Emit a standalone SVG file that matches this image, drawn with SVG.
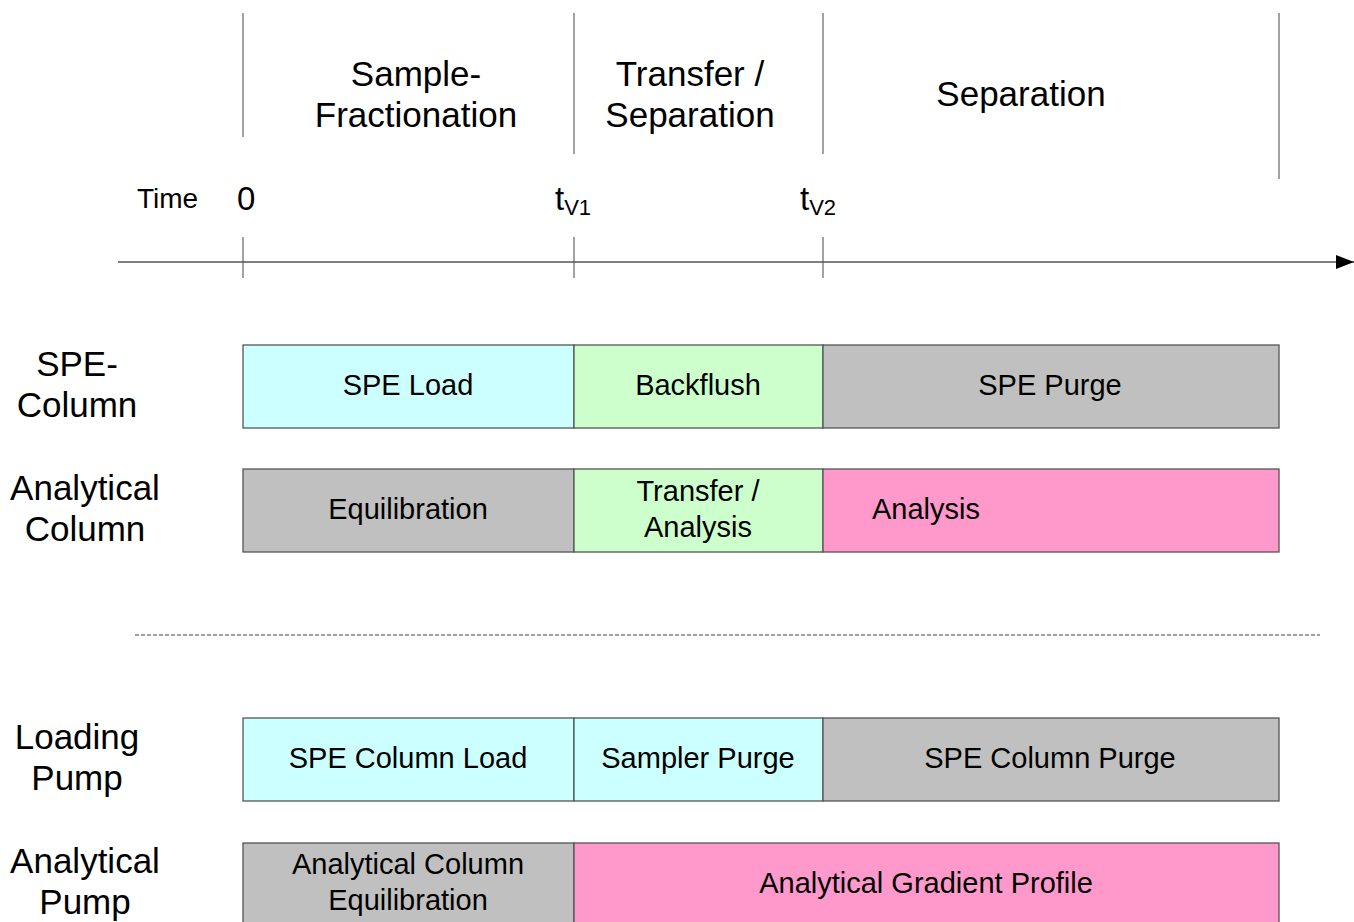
<svg xmlns="http://www.w3.org/2000/svg" width="1354" height="922" viewBox="0 0 1354 922">
  <style>
    text { font-family: "Liberation Sans", Arial, sans-serif; fill: #000; }
    .head { font-size: 35px; text-anchor: middle; }
    .row { font-size: 35px; text-anchor: middle; }
    .lbl { font-size: 29px; text-anchor: middle; }
    .guide { stroke: #666; stroke-width: 1.2; fill: none; }
    .box { stroke: #555; stroke-width: 1.3; }
    .cyan { fill: #CCFFFF; }
    .green { fill: #CCFFCC; }
    .grey { fill: #C0C0C0; }
    .pink { fill: #FF99CC; }
  </style>
  <defs>
    <marker id="arrow" markerWidth="18" markerHeight="14" refX="18" refY="7" orient="auto" markerUnits="userSpaceOnUse">
      <path d="M0,0 L18,7 L0,14 Z" fill="#000"/>
    </marker>
  </defs>
  <rect width="1354" height="922" fill="#fff"/>

  <!-- phase boundaries and time axis -->
  <g id="connectors">
    <line class="guide" x1="243" y1="13" x2="243" y2="137"/>
    <line class="guide" x1="574" y1="13" x2="574" y2="154"/>
    <line class="guide" x1="823" y1="13" x2="823" y2="154"/>
    <line class="guide" x1="1279" y1="13" x2="1279" y2="179"/>
    <line class="guide" x1="243" y1="237" x2="243" y2="278"/>
    <line class="guide" x1="574" y1="237" x2="574" y2="278"/>
    <line class="guide" x1="823" y1="237" x2="823" y2="278"/>
    <line x1="118" y1="262" x2="1354" y2="262" stroke="#555" stroke-width="1.3" marker-end="url(#arrow)"/>
    <line x1="135" y1="635" x2="1320" y2="635" stroke="#444" stroke-width="1.2" stroke-dasharray="4,2"/>
  </g>

  <!-- phase headings -->
  <g id="phase-sample">
    <text class="head" x="416" y="86">Sample-</text>
    <text class="head" x="416" y="127">Fractionation</text>
  </g>
  <g id="phase-transfer">
    <text class="head" x="690" y="86">Transfer /</text>
    <text class="head" x="690" y="127">Separation</text>
  </g>
  <g id="phase-separation">
    <text class="head" x="1021" y="106">Separation</text>
  </g>

  <!-- time marks -->
  <g id="time-labels">
    <text x="137" y="208" style="font-size:28px">Time</text>
    <text x="237" y="210" style="font-size:33px">0</text>
    <text x="555" y="210" style="font-size:33px">t<tspan dy="5" style="font-size:22px">V1</tspan></text>
    <text x="800" y="210" style="font-size:33px">t<tspan dy="5" style="font-size:22px">V2</tspan></text>
  </g>

  <!-- row titles -->
  <g id="row-spe-column">
    <text class="row" x="77" y="376">SPE-</text>
    <text class="row" x="77" y="417">Column</text>
  </g>
  <g id="row-analytical-column">
    <text class="row" x="85" y="500">Analytical</text>
    <text class="row" x="85" y="541">Column</text>
  </g>
  <g id="row-loading-pump">
    <text class="row" x="77" y="749">Loading</text>
    <text class="row" x="77" y="790">Pump</text>
  </g>
  <g id="row-analytical-pump">
    <text class="row" x="85" y="873">Analytical</text>
    <text class="row" x="85" y="914">Pump</text>
  </g>

  <!-- SPE column -->
  <g id="spe-load">
    <rect class="box cyan" x="243" y="345" width="331" height="83"/>
    <text class="lbl" x="408" y="395">SPE Load</text>
  </g>
  <g id="backflush">
    <rect class="box green" x="574" y="345" width="249" height="83"/>
    <text class="lbl" x="698" y="395">Backflush</text>
  </g>
  <g id="spe-purge">
    <rect class="box grey" x="823" y="345" width="456" height="83"/>
    <text class="lbl" x="1050" y="395">SPE Purge</text>
  </g>

  <!-- analytical column -->
  <g id="equilibration">
    <rect class="box grey" x="243" y="469" width="331" height="83"/>
    <text class="lbl" x="408" y="519">Equilibration</text>
  </g>
  <g id="transfer-analysis">
    <rect class="box green" x="574" y="469" width="249" height="83"/>
    <text class="lbl" x="698" y="501">Transfer /</text>
    <text class="lbl" x="698" y="537">Analysis</text>
  </g>
  <g id="analysis">
    <rect class="box pink" x="823" y="469" width="456" height="83"/>
    <text x="872" y="519" style="font-size:29px">Analysis</text>
  </g>

  <!-- loading pump -->
  <g id="spe-column-load">
    <rect class="box cyan" x="243" y="718" width="331" height="83"/>
    <text class="lbl" x="408" y="768">SPE Column Load</text>
  </g>
  <g id="sampler-purge">
    <rect class="box cyan" x="574" y="718" width="249" height="83"/>
    <text class="lbl" x="698" y="768">Sampler Purge</text>
  </g>
  <g id="spe-column-purge">
    <rect class="box grey" x="823" y="718" width="456" height="83"/>
    <text class="lbl" x="1050" y="768">SPE Column Purge</text>
  </g>

  <!-- analytical pump -->
  <g id="analytical-column-equilibration">
    <rect class="box grey" x="243" y="843" width="331" height="90"/>
    <text class="lbl" x="408" y="874">Analytical Column</text>
    <text class="lbl" x="408" y="910">Equilibration</text>
  </g>
  <g id="analytical-gradient-profile">
    <rect class="box pink" x="574" y="843" width="705" height="90"/>
    <text class="lbl" x="926" y="893">Analytical Gradient Profile</text>
  </g>
</svg>
